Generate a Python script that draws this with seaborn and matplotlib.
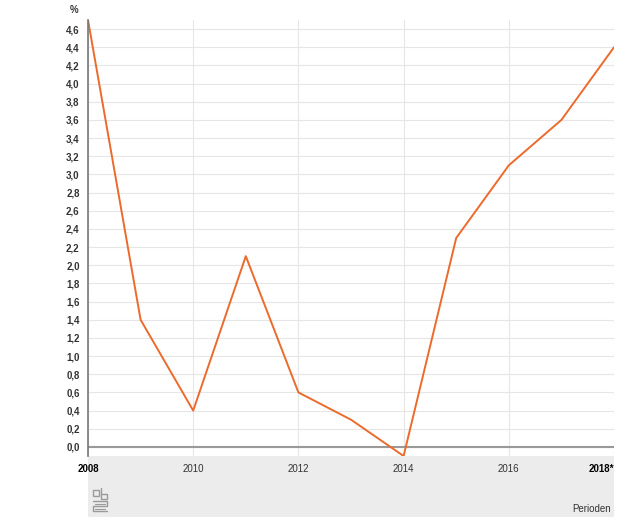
import numpy as np
import pandas as pd
import seaborn as sns
import matplotlib.pyplot as plt
import matplotlib.transforms as mtransforms
from matplotlib.patches import Rectangle

years = [2008, 2009, 2010, 2011, 2012, 2013, 2014, 2015, 2016, 2017, 2018]
values = [4.7, 1.4, 0.4, 2.1, 0.6, 0.3, -0.1, 2.3, 3.1, 3.6, 4.4]
tick_years = [2008, 2010, 2012, 2014, 2016, 2018]
tick_labels = ["2008", "2010", "2012", "2014", "2016", "2018*"]
y_ticks = [round(v * 0.2, 1) for v in range(0, 24)]

df = pd.DataFrame({"jaar": years, "waarde": values})

sns.set_style("white")
plt.rcParams['font.family'] = ['Liberation Sans', 'DejaVu Sans']

fig = plt.figure(figsize=(6.25, 5.25), dpi=100)

# grey footer band with logo (drawn first, below the chart)
band = fig.add_axes([0.1408, 0.0152, 0.8416, 0.1162])
band.set_facecolor("#ececec")
band.set_xlim(0, 526)
band.set_ylim(0, 61)
band.set_xticks([])
band.set_yticks([])
for s in band.spines.values():
    s.set_visible(False)
band.text(523, 8, "Perioden", fontsize=7, ha="right", va="center", color="#333333")
lc = "#9a9a9a"
band.add_patch(Rectangle((5, 21), 6, 6, fill=False, ec=lc, lw=1.0))
band.add_patch(Rectangle((13, 18), 6, 5, fill=False, ec=lc, lw=1.0))
band.plot([13, 13], [23, 29], color=lc, lw=1.0)
band.plot([5, 19, 19, 5, 5, 19], [16, 16, 11, 11, 6, 6], color=lc, lw=1.0)
band.plot([7, 17], [13.5, 13.5], color=lc, lw=0.8)
band.plot([7, 17], [8.5, 8.5], color=lc, lw=0.8)

ax = fig.add_axes([0.1408, 0.1314, 0.8416, 0.8305])
ax.set_zorder(3)
ax.patch.set_alpha(0)

sns.lineplot(data=df, x="jaar", y="waarde", ax=ax, color="#EC6A2C", linewidth=1.4)

ax.set_xlim(2008, 2018)
ax.set_ylim(-0.1, 4.7)
ax.set_yticks(y_ticks)
ax.set_yticklabels([f"{v:.1f}".replace(".", ",") for v in y_ticks], fontsize=7, fontweight="bold", color="#333333")
ax.set_xticks(tick_years)
ax.set_xticklabels(tick_labels, fontsize=7, color="#333333")
xl = ax.get_xticklabels()
for i in (0, len(tick_labels) - 1):
    xl[i].set_fontweight("bold")
    xl[i].set_color("black")
last = xl[-1]
last.set_horizontalalignment("right")
last.set_transform(last.get_transform() + mtransforms.ScaledTranslation(9 / 100, 0, fig.dpi_scale_trans))
ax.tick_params(axis="both", length=0, pad=6)
ax.grid(True, color="#e6e6e6", linewidth=0.8)
ax.set_axisbelow(True)
ax.axhline(0, color="#999999", linewidth=1.5, zorder=1)
for s in ["top", "right", "bottom"]:
    ax.spines[s].set_visible(False)
ax.spines["left"].set_color("#777777")
ax.spines["left"].set_linewidth(1.2)
ax.set_xlabel("")
ax.set_ylabel("")
fig.text(70 / 625, 1 - 10 / 525, "%", fontsize=7, fontweight="bold", color="#333333", ha="left", va="center")

fig.savefig("out.png", dpi=100)
